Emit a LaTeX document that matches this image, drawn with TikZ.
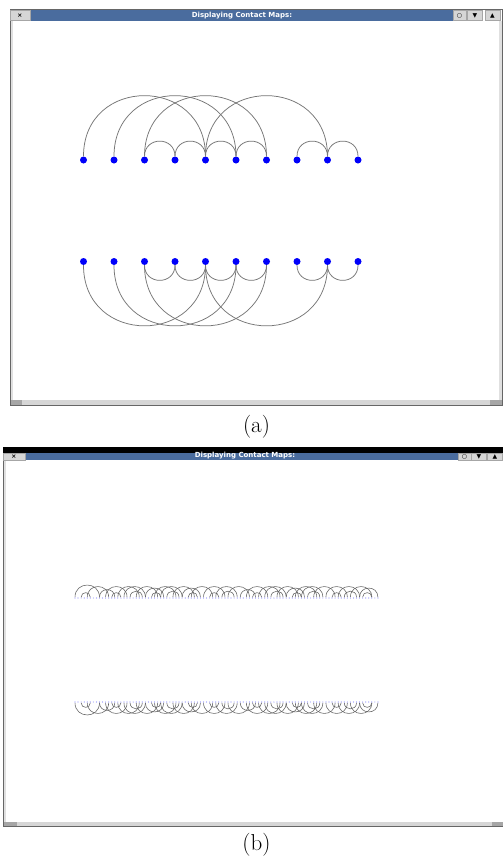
\documentclass[tikz,border=0pt]{standalone}
\usepackage{fontspec}
\usepackage{tikz}
\usetikzlibrary{positioning,calc}
\newfontfamily\wmfont{DejaVu Sans}
\definecolor{TitleBlue}{RGB}{74,108,158}
\definecolor{ArcGray}{RGB}{118,118,118}
\definecolor{ChromeGray}{RGB}{214,214,214}
\definecolor{DotBlue}{RGB}{0,0,250}
\tikzset{
  dot/.style={circle,fill=DotBlue,inner sep=0pt,minimum size=7pt},
  tinydot/.style={circle,fill=DotBlue!45,inner sep=0pt,minimum size=1.2pt},
  uparc/.style={draw=ArcGray,line width=0.75pt,out=90,in=90,looseness=1.7},
  downarc/.style={draw=ArcGray,line width=0.75pt,out=-90,in=-90,looseness=1.7},
  thinup/.style={draw=black!62,line width=0.55pt,out=90,in=90,looseness=1.7},
  thindown/.style={draw=black!62,line width=0.55pt,out=-90,in=-90,looseness=1.7},
  wintitle/.style={text=white,font=\wmfont\bfseries\fontsize{7}{8}\selectfont,inner sep=0pt},
  winbutton/.style={fill=ChromeGray,draw=black!35,line width=0.4pt,inner sep=0pt,
    minimum height=10pt,font=\wmfont\fontsize{6}{6}\selectfont},
  caption/.style={font=\fontsize{23}{27}\selectfont,inner sep=0pt},
}

\begin{document}
\begin{tikzpicture}[x=1pt,y=1pt]
  \useasboundingbox (0,0) rectangle (503,-862);
  % window (a)
  \fill[white] (10,-9) rectangle (502,-405);
  \fill[black!12] (10,-21) rectangle (13,-400);
  \fill[black!12] (499,-21) rectangle (502,-400);
  \fill[TitleBlue] (30,-10) rectangle (453,-21);
  \fill[ChromeGray] (10,-400) rectangle (502,-405);
  \fill[black!35] (10,-400) rectangle (22,-405);
  \fill[black!35] (490,-400) rectangle (502,-405);
  \draw[black!60,line width=0.8pt] (10,-9) rectangle (502,-405);
  \node[wintitle] (titleA) at (242,-15.5) {Displaying Contact Maps:};
  \node[winbutton,minimum width=20pt] (closeA) at (20,-15.5) {\bfseries ×};
  \node[winbutton,minimum width=13pt] (iconA) at (459.5,-15.5) {○};
  \node[winbutton,minimum width=15pt] (minA) at (475,-15.5) {▼};
  \node[winbutton,minimum width=15pt] (maxA) at (492.5,-15.5) {▲};

  % contact map (a)
  \foreach \i in {1,...,10} {
    \node[dot] (u\i) at ({83.5+30.5*(\i-1)},-160) {};
    \node[dot] (l\i) at ({83.5+30.5*(\i-1)},-261.5) {};
  }
  \foreach \x/\y in {1/5,2/6,3/7,5/9,3/4,4/5,5/6,6/7,8/9,9/10} {
    \draw[uparc] (u\x) to (u\y);
    \draw[downarc] (l\x) to (l\y);
  }
  \node[caption] (capA) at (256.5,-427) {(a)};

  % window (b)
  \fill[white] (3,-448) rectangle (503,-826);
  \fill[black!12] (3,-460) rectangle (6,-822);
  \fill[black] (3,-446.5) rectangle (503,-453);
  \fill[TitleBlue] (25,-453) rectangle (458,-460);
  \fill[ChromeGray] (3,-822) rectangle (503,-826);
  \fill[black!35] (3,-822) rectangle (17,-826);
  \fill[black!35] (492,-822) rectangle (503,-826);
  \draw[black!60,line width=0.8pt] (3,-453) -- (3,-826) -- (503,-826) -- (503,-453);
  \node[wintitle] (titleB) at (245,-455.5) {Displaying Contact Maps:};
  \node[winbutton,minimum width=22pt,minimum height=7pt] (closeB) at (14,-456.5) {\bfseries ×};
  \node[winbutton,minimum width=13pt,minimum height=7pt] (iconB) at (464.5,-456.5) {○};
  \node[winbutton,minimum width=15pt,minimum height=7pt] (minB) at (479,-456.5) {▼};
  \node[winbutton,minimum width=15pt,minimum height=7pt] (maxB) at (495,-456.5) {▲};

  % contact map (b)
  \foreach \i in {1,...,100} {
    \node[tinydot] (p\i) at ({75+3.06*(\i-1)},-598) {};
    \node[tinydot] (q\i) at ({75+3.06*(\i-1)},-702) {};
  }
  \foreach \x/\y in {1/9,3/6,5/12,9/14,11/18,13/16,15/22,17/24,19/23,21/28,
      24/30,26/29,27/34,29/36,31/35,33/40,36/42,38/41,39/46,43/50,45/48,
      47/54,49/53,51/58,55/60,57/64,59/62,61/68,63/70,65/69,67/74,70/76,
      72/75,73/80,75/82,77/81,79/86,83/90,85/88,87/94,89/93,91/98,94/100,95/98} {
    \draw[thinup] (p\x) to (p\y);
    \draw[thindown] (q\x) to (q\y);
  }
  \node[caption] (capB) at (256.5,-845) {(b)};
\end{tikzpicture}
\end{document}
